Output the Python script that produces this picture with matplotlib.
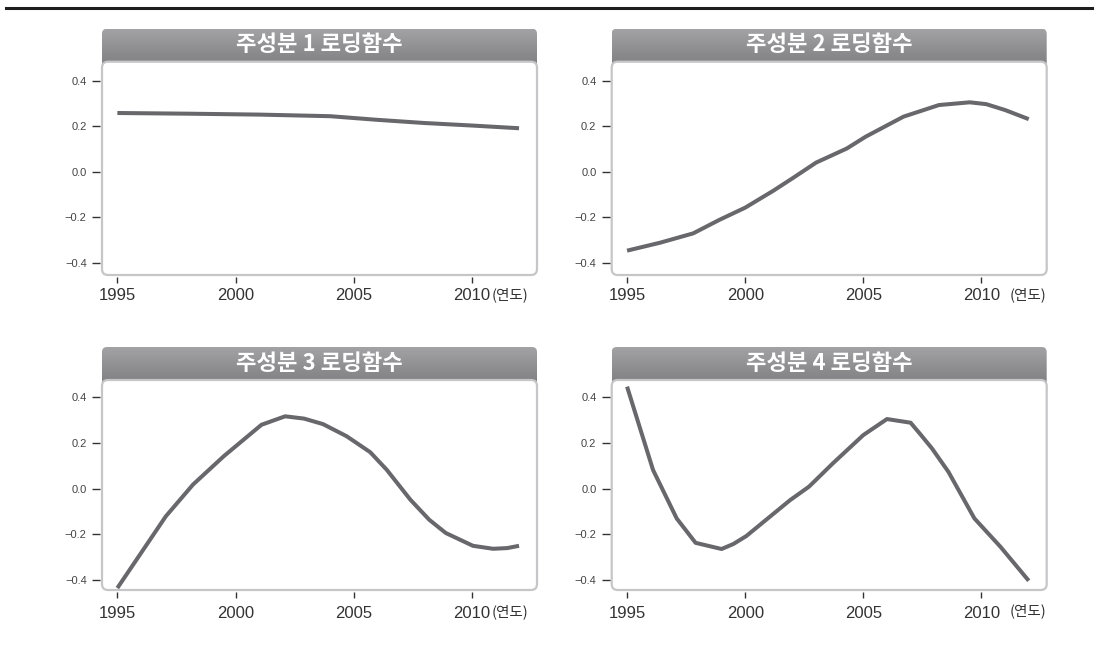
import numpy as np
import matplotlib
matplotlib.use("Agg")
import matplotlib.pyplot as plt
from matplotlib.patches import FancyBboxPatch
from matplotlib.lines import Line2D

plt.rcParams['axes.unicode_minus'] = True

# 주성분 로딩함수 (연도별)
titles = ["주성분 1 로딩함수", "주성분 2 로딩함수", "주성분 3 로딩함수", "주성분 4 로딩함수"]

pc1_years = [1995, 1998, 2001, 2004, 2005, 2006, 2008, 2010, 2012]
pc1 = [0.258, 0.255, 0.251, 0.244, 0.236, 0.228, 0.214, 0.203, 0.191]

pc2_years = [1995, 1996.4, 1997.8, 1998.9, 2000, 2001.2, 2002, 2003, 2004.3,
             2005.1, 2006.7, 2008.2, 2009.5, 2010.2, 2011, 2012]
pc2 = [-0.347, -0.312, -0.271, -0.212, -0.158, -0.083, -0.029, 0.040, 0.102,
       0.154, 0.242, 0.293, 0.305, 0.297, 0.271, 0.231]

pc3_years = [1995, 1997.05, 1998.2, 1999.5, 2001.1, 2002.1, 2002.9, 2003.7, 2004.7,
             2005.7, 2006.4, 2007.4, 2008.2, 2008.9, 2010.05, 2010.9, 2011.5, 2012]
pc3 = [-0.435, -0.121, 0.018, 0.142, 0.28, 0.317, 0.307, 0.283, 0.23,
       0.16, 0.083, -0.048, -0.136, -0.194, -0.25, -0.263, -0.26, -0.25]

pc4_years = [1995, 1996.1, 1997.1, 1997.9, 1999.0, 1999.5, 2000.05, 2001.9, 2002.7, 2003.7,
             2005.0, 2006.0, 2007.0, 2007.4, 2007.9, 2008.6, 2009.7, 2010.8, 2012.0]
pc4 = [0.447, 0.082, -0.13, -0.237, -0.264, -0.242, -0.207, -0.05, 0.009, 0.11,
       0.235, 0.305, 0.289, 0.24, 0.177, 0.074, -0.13, -0.254, -0.403]

series = [(pc1_years, pc1), (pc2_years, pc2), (pc3_years, pc3), (pc4_years, pc4)]

xticks = [1995, 2000, 2005, 2010]
yticks = [-0.4, -0.2, 0.0, 0.2, 0.4]

W, H = 1098, 646
fig = plt.figure(figsize=(W / 100, H / 100), dpi=100)

KR = ['Noto Sans CJK KR', 'DejaVu Sans']
NUM = ['Liberation Sans', 'DejaVu Sans']

# panel boxes in pixels: left, top, right, bottom
boxes = [(102, 61.7, 537, 275), (611.7, 61.7, 1046.7, 275),
         (102, 380, 537, 590), (611.7, 380, 1046.7, 590)]
ylims = [(-0.454, 0.4835), (-0.454, 0.4835), (-0.4435, 0.476), (-0.4435, 0.476)]
unit_pos = [(492, 295), (1010, 295), (492, 612), (1010, 611)]
xpads = [4, 4, 6, 6]


def inch(x, y):
    return x / 100, (H - y) / 100


# gradient for the header bars
grad = np.linspace(0, 1, 64).reshape(-1, 1)
hdr_cmap = matplotlib.colors.LinearSegmentedColormap.from_list(
    "hdr", ["#a3a3a6", "#8e8e91", "#7d7d80"])

for i, (l, t, r, b) in enumerate(boxes):
    # header bar behind the white box
    ht, hb = t - 33, t + 8
    hax = fig.add_axes([l / W, (H - hb) / H, (r - l) / W, (hb - ht) / H], zorder=0)
    hax.set_axis_off()
    im = hax.imshow(grad, aspect='auto', cmap=hdr_cmap, extent=[0, 1, 0, 1])
    x0, y0 = inch(l, hb)
    clip = FancyBboxPatch((x0, y0), (r - l) / 100, (hb - ht) / 100,
                          boxstyle="round,pad=0,rounding_size=0.05",
                          transform=fig.dpi_scale_trans, facecolor='none', edgecolor='none')
    im.set_clip_path(clip)
    fig.text((l + r) / 2 / W, (H - (ht + 16)) / H, titles[i], color='white',
             fontsize=16, fontweight='bold', family=KR, ha='center', va='center')

    ax = fig.add_axes([l / W, (H - b) / H, (r - l) / W, (b - t) / H], zorder=1)
    ax.set_facecolor('none')
    x0, y0 = inch(l, b)
    box = FancyBboxPatch((x0, y0), (r - l) / 100, (b - t) / 100,
                         boxstyle="round,pad=0,rounding_size=0.06",
                         transform=fig.dpi_scale_trans, facecolor='white',
                         edgecolor='#c6c6c8', linewidth=1.6, zorder=0, clip_on=False)
    ax.add_patch(box)

    xs, ys = series[i]
    ax.plot(xs, ys, color='#68686c', linewidth=2.9, solid_capstyle='butt', zorder=3)

    ax.set_xlim(1994.35, 2012.76)
    ax.set_ylim(*ylims[i])
    for s in ax.spines.values():
        s.set_visible(False)
    ax.spines['left'].set_position(('outward', 1.5))
    ax.spines['bottom'].set_position(('outward', 1.5))

    ax.set_xticks(xticks)
    ax.set_xticklabels([str(v) for v in xticks], family=NUM, fontsize=12, color='#333333')
    ax.set_yticks(yticks)
    ax.set_yticklabels([f"{v:.1f}".replace('-', '\u2212') for v in yticks],
                       family=NUM, fontsize=8, color='#444444')
    ax.tick_params(axis='x', direction='out', length=4, width=1, color='#333333', pad=xpads[i])
    ax.tick_params(axis='y', direction='out', length=5.5, width=1, color='#333333', pad=4)

    ux, uy = unit_pos[i]
    fig.text(ux / W, (H - uy) / H, "(연도)", family=KR, fontsize=10.5,
             color='#333333', ha='left', va='center')

# rule across the top
fig.add_artist(Line2D([6 / W, 1092 / W], [(H - 8) / H] * 2, color='#1e1e1e',
                      linewidth=2.2, transform=fig.transFigure))

fig.savefig("out.png", dpi=100)
